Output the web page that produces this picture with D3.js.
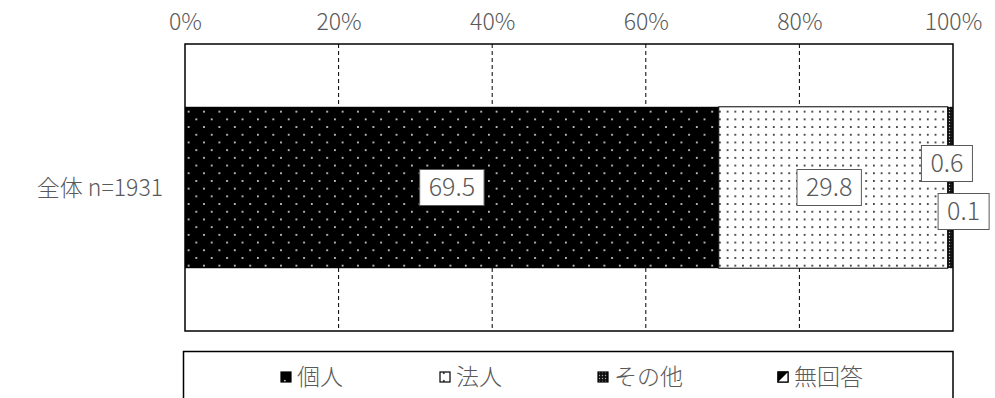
<!DOCTYPE html>
<html>
<head>
<meta charset="utf-8">
<script src="https://cdn.jsdelivr.net/npm/d3@7"></script>
<style>
  body { margin: 0; background: #fff; }
  svg text { font-family: "Noto Sans CJK JP", "Noto Sans", sans-serif; font-weight: 300; fill: #595959; }
</style>
</head>
<body>
<svg id="chart" width="995" height="398"></svg>
<script>
// data
const categories = ["全体 n=1931"];
const seriesNames = ["個人", "法人", "その他", "無回答"];
const values = [69.5, 29.8, 0.6, 0.1];
const tickValues = [0, 20, 40, 60, 80, 100];

// layout
const plot = {left: 185, right: 953, top: 44, bottom: 331};
const fontSize = 23;
const labelSize = 25;
// manual label nudges (like the hand-moved labels in the original)
const labelNudge = [[0, 0], [-4, 0], [-3, -24], [11, 24]];

const svg = d3.select("#chart");
const defs = svg.append("defs");

// fill patterns
function dotPattern(id, size, bg, dot, pts, r) {
    const p = defs.append("pattern")
        .attr("id", id)
        .attr("patternUnits", "userSpaceOnUse")
        .attr("width", size)
        .attr("height", size);
    p.append("rect").attr("width", size).attr("height", size).attr("fill", bg);
    pts.forEach(d => {
        p.append("circle").attr("cx", d[0]).attr("cy", d[1]).attr("r", r).attr("fill", dot);
    });
}
dotPattern("pat0", 15.4, "#000", "#e6e6e6", [[3.8, 3.8], [11.5, 11.5]], 1);
dotPattern("pat1", 7.7, "#fff", "#111", [[3.8, 3.8]], 0.95);
dotPattern("pat2", 3, "#111", "#aaa", [[1.5, 1.5]], 0.7);
dotPattern("pat3", 4, "#000", "#000", [], 0);
const fills = ["url(#pat0)", "url(#pat1)", "url(#pat2)", "url(#pat3)"];

const x = d3.scaleLinear().domain([0, 100]).range([plot.left, plot.right]);
const y = d3.scaleBand().domain(categories).range([plot.top, plot.bottom]).padding(0.28);

// dashed gridlines
svg.append("g")
    .selectAll("line")
    .data(tickValues.slice(1, -1))
    .join("line")
    .attr("x1", d => x(d)).attr("x2", d => x(d))
    .attr("y1", plot.top).attr("y2", plot.bottom)
    .attr("stroke", "#000")
    .attr("stroke-width", 1)
    .attr("stroke-dasharray", "4,3");

// stacked segments
let acc = 0;
const segs = values.map((v, i) => {
    const s = {i: i, v: v, x0: acc, x1: acc + v};
    acc += v;
    return s;
});

const barG = svg.append("g");
categories.forEach(cat => {
    barG.selectAll("rect")
        .data(segs)
        .join("rect")
        .attr("x", d => x(d.x0))
        .attr("y", y(cat))
        .attr("width", d => x(d.x1) - x(d.x0))
        .attr("height", y.bandwidth())
        .attr("fill", d => fills[d.i])
        .attr("stroke", d => d.i === 1 ? "#000" : "none")
        .attr("stroke-width", 1);
});

// plot border
svg.append("rect")
    .attr("x", plot.left).attr("y", plot.top)
    .attr("width", plot.right - plot.left)
    .attr("height", plot.bottom - plot.top)
    .attr("fill", "none")
    .attr("stroke", "#000")
    .attr("stroke-width", 1.5);

// top axis
const axis = svg.append("g")
    .attr("transform", `translate(0,${plot.top})`)
    .call(d3.axisTop(x).tickValues(tickValues).tickFormat(d => d + "%").tickSize(0).tickPadding(14));
axis.select(".domain").remove();
axis.selectAll("text")
    .style("font-size", fontSize + "px")
    .style("font-family", "'Noto Sans CJK JP', sans-serif")
    .style("font-weight", 300)
    .attr("fill", "#595959");

// category label
svg.append("text")
    .attr("x", 163)
    .attr("y", y(categories[0]) + y.bandwidth() / 2)
    .attr("dy", "0.35em")
    .attr("text-anchor", "end")
    .style("font-size", fontSize + "px")
    .text(categories[0]);

// value labels with boxes
const labelG = svg.append("g");
segs.forEach(d => {
    const cx = x((d.x0 + d.x1) / 2) + labelNudge[d.i][0];
    const cy = y(categories[0]) + y.bandwidth() / 2 + labelNudge[d.i][1];
    const g = labelG.append("g");
    const box = g.append("rect");
    const t = g.append("text")
        .attr("x", cx).attr("y", cy)
        .attr("dy", "0.35em")
        .attr("text-anchor", "middle")
        .style("font-size", labelSize + "px")
        .attr("fill", "#404040")
        .text(d.v.toFixed(1));
    const bb = t.node().getBBox();
    box.attr("x", bb.x - 9).attr("y", cy - 18)
        .attr("width", bb.width + 18).attr("height", 36)
        .attr("fill", "#fff")
        .attr("stroke", "#595959")
        .attr("stroke-width", 1);
});

// legend
svg.append("rect")
    .attr("x", 183.5).attr("y", 351.5)
    .attr("width", 769.5).attr("height", 80)
    .attr("fill", "none")
    .attr("stroke", "#000")
    .attr("stroke-width", 1.5);

const legendX = [281, 440, 598, 778];
const legend = svg.append("g")
    .selectAll("g")
    .data(seriesNames)
    .join("g")
    .attr("transform", (d, i) => `translate(${legendX[i]},377)`);

legend.append("rect")
    .attr("x", 0).attr("y", -5)
    .attr("width", 10).attr("height", 10)
    .attr("fill", (d, i) => fills[i])
    .attr("stroke", "#000")
    .attr("stroke-width", 1.2);

// split marker for 無回答
legend.filter((d, i) => i === 3)
    .append("path")
    .attr("d", "M10,-5 L10,5 L0,5 Z")
    .attr("fill", "#fff")
    .attr("stroke", "none");
legend.filter((d, i) => i === 3)
    .append("rect")
    .attr("x", 0).attr("y", -5).attr("width", 10).attr("height", 10)
    .attr("fill", "none").attr("stroke", "#000").attr("stroke-width", 1.2);

legend.append("text")
    .attr("x", 16)
    .attr("dy", "0.35em")
    .style("font-size", fontSize + "px")
    .text(d => d);
</script>
</body>
</html>
